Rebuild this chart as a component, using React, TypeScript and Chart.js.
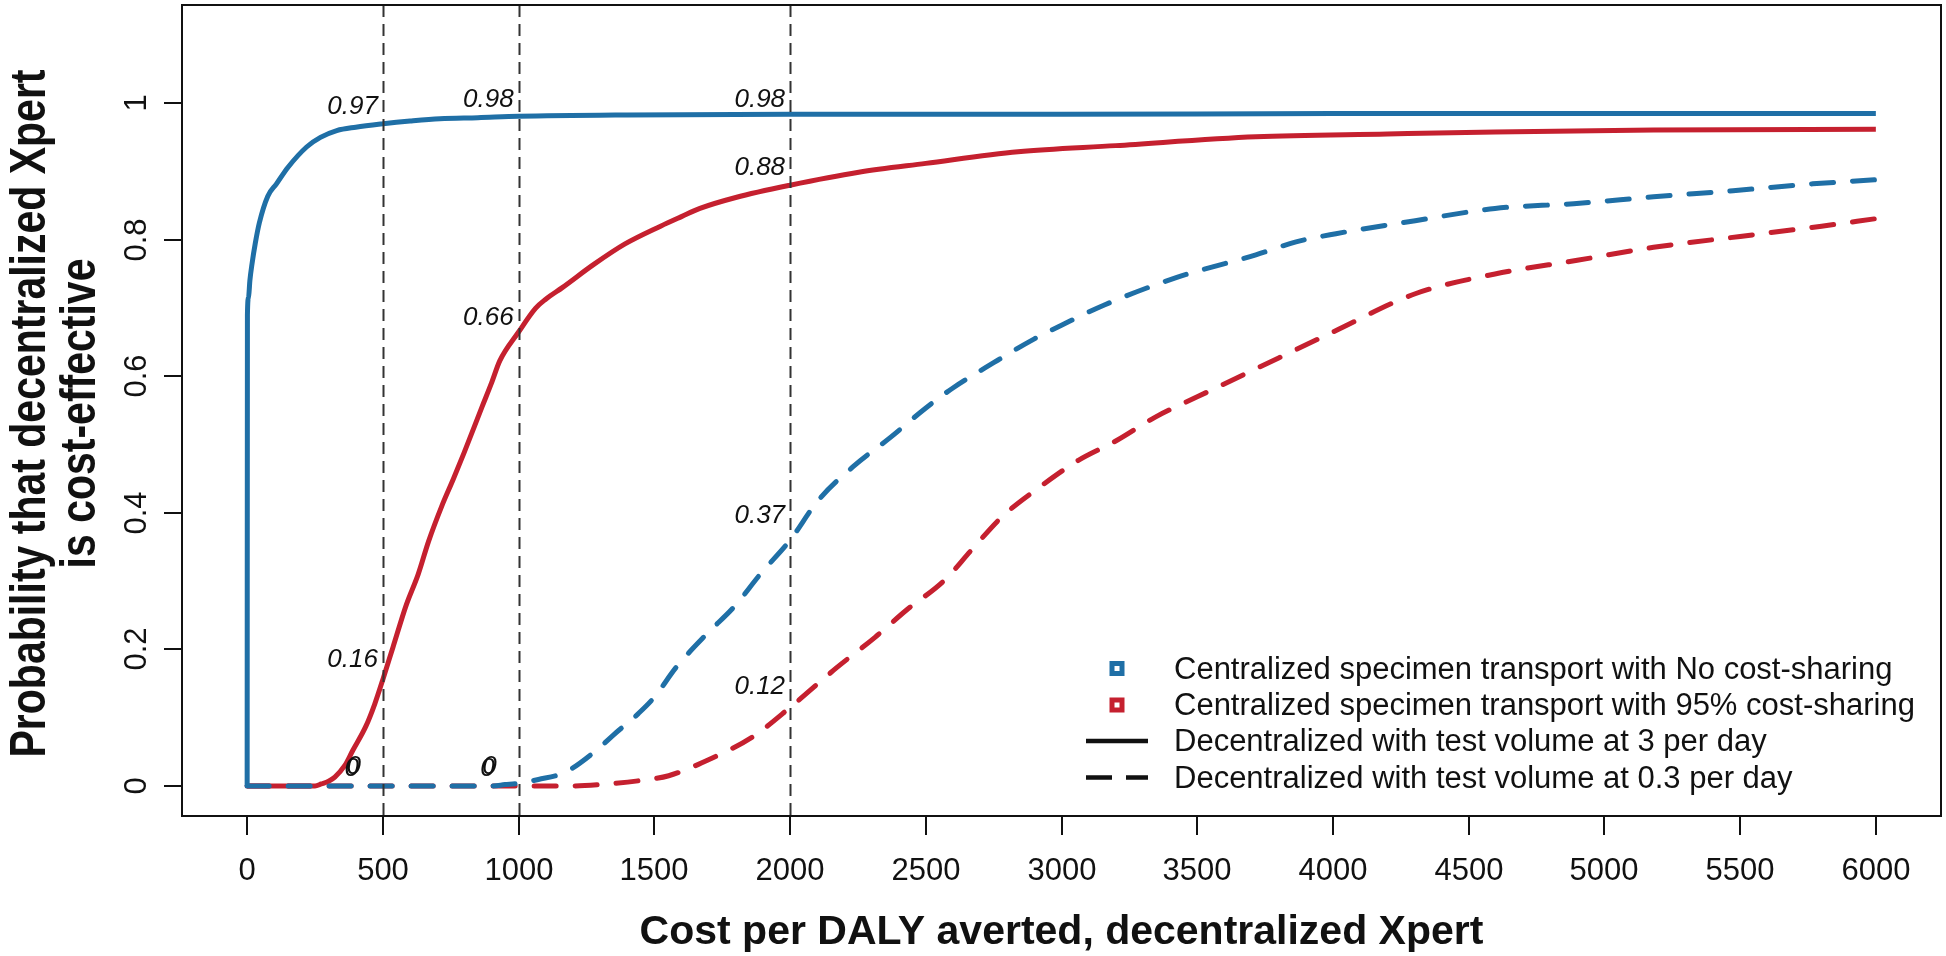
import React, { useEffect, useRef } from 'react';
import { Chart, registerables } from 'chart.js';

Chart.register(...registerables);

// ---- Data ----
const blueSolidX = [0, 1, 5, 10, 18, 30, 45, 76, 108, 150, 219, 270, 330, 400, 501, 600, 710, 850, 1000, 1400, 2000, 3000, 4000, 5000, 6000];
const blueSolidY = [0, 0.69, 0.715, 0.74, 0.765, 0.795, 0.825, 0.864, 0.882, 0.906, 0.936, 0.95, 0.96, 0.965, 0.97, 0.974, 0.9775, 0.979, 0.981, 0.983, 0.984, 0.984, 0.985, 0.985, 0.985];

const redSolidX = [0, 150, 250, 273, 300, 323, 360, 389, 438, 470, 500, 537, 586, 630, 668, 717, 760, 799, 866, 900, 931, 1000, 1063, 1100, 1161, 1277, 1392, 1523, 1600, 1668, 1800, 2000, 2253, 2500, 2840, 3200, 3716, 4200, 4597, 5181, 6000];
const redSolidY = [0, 0, 0, 0.003, 0.007, 0.013, 0.03, 0.052, 0.088, 0.12, 0.156, 0.203, 0.265, 0.31, 0.358, 0.41, 0.45, 0.488, 0.556, 0.59, 0.623, 0.665, 0.7, 0.713, 0.73, 0.764, 0.794, 0.82, 0.834, 0.846, 0.862, 0.88, 0.899, 0.912, 0.929, 0.938, 0.951, 0.955, 0.958, 0.961, 0.962];

const blueDashX = [0, 900, 950, 1000, 1073, 1171, 1286, 1350, 1441, 1500, 1581, 1694, 1793, 1892, 2000, 2103, 2230, 2371, 2498, 2600, 2750, 2900, 3000, 3160, 3425, 3716, 3864, 4011, 4303, 4597, 4887, 5181, 5474, 5767, 6000];
const blueDashY = [0, 0, 0.002, 0.004, 0.0095, 0.02, 0.052, 0.075, 0.106, 0.13, 0.174, 0.223, 0.262, 0.311, 0.36, 0.418, 0.467, 0.511, 0.553, 0.583, 0.62, 0.655, 0.675, 0.705, 0.745, 0.778, 0.797, 0.809, 0.828, 0.846, 0.853, 0.863, 0.872, 0.882, 0.888];

const redDashX = [0, 1000, 1204, 1328, 1450, 1553, 1708, 1862, 2000, 2174, 2314, 2427, 2568, 2667, 2780, 2920, 3062, 3203, 3344, 3500, 3800, 4000, 4303, 4597, 4900, 5181, 5500, 5800, 6000];
const redDashY = [0, 0, 0, 0.003, 0.008, 0.015, 0.04, 0.072, 0.115, 0.174, 0.218, 0.257, 0.301, 0.345, 0.394, 0.438, 0.477, 0.506, 0.54, 0.57, 0.627, 0.665, 0.721, 0.75, 0.77, 0.789, 0.805, 0.82, 0.831];

const xTicks = [0, 500, 1000, 1500, 2000, 2500, 3000, 3500, 4000, 4500, 5000, 5500, 6000];
const yTicks = [0, 0.2, 0.4, 0.6, 0.8, 1];
const yTickLabels = ['0', '0.2', '0.4', '0.6', '0.8', '1'];
const thresholds = [500, 1000, 2000];

const annoX = [500, 1000, 2000, 2000, 1000, 500, 2000, 2000, 500, 500, 1000, 1000];
const annoY = [0.97, 0.98, 0.98, 0.88, 0.66, 0.16, 0.37, 0.12, 0, 0, 0, 0];
const annoText = ['0.97', '0.98', '0.98', '0.88', '0.66', '0.16', '0.37', '0.12', '0', '0', '0', '0'];

const legendLabels = [
  'Centralized specimen transport with No cost-sharing',
  'Centralized specimen transport with 95% cost-sharing',
  'Decentralized with test volume at 3 per day',
  'Decentralized with test volume at 0.3 per day',
];

const xTitle = 'Cost per DALY averted, decentralized Xpert';
const yTitle1 = 'Probability that decentralized Xpert';
const yTitle2 = 'is cost-effective';

const BLUE = '#1f6fa6';
const RED = '#c5202f';
const FONT = '"Liberation Sans", Arial, Helvetica, sans-serif';

const pts = (xs: number[], ys: number[]) => xs.map((x, i) => ({ x, y: ys[i] }));

export default function App() {
  const ref = useRef<HTMLCanvasElement>(null);

  useEffect(() => {
    const canvas = ref.current;
    if (!canvas) return;

    const decor = {
      id: 'rdecor',
      afterDatasetsDraw(chart: any) {
        const ctx = chart.ctx;
        const xs = chart.scales.x;
        const ys = chart.scales.y;
        const a = chart.chartArea;
        ctx.save();
        // threshold dashed lines
        ctx.strokeStyle = '#333';
        ctx.lineWidth = 2;
        ctx.setLineDash([12, 7]);
        thresholds.forEach((t) => {
          const px = Math.round(xs.getPixelForValue(t)) + 0.5;
          ctx.beginPath();
          ctx.moveTo(px, a.top);
          ctx.lineTo(px, a.bottom);
          ctx.stroke();
        });
        ctx.setLineDash([]);
        // annotations
        ctx.fillStyle = '#111';
        ctx.font = `italic 26px ${FONT}`;
        ctx.textAlign = 'right';
        ctx.textBaseline = 'alphabetic';
        const seen: Record<string, number> = {};
        annoText.forEach((t, i) => {
          const px = xs.getPixelForValue(annoX[i]);
          const py = ys.getPixelForValue(annoY[i]);
          if (t === '0') {
            const key = String(annoX[i]);
            const n = seen[key] || 0;
            seen[key] = n + 1;
            ctx.fillText(t, px - 24 + n * 2, py - 10 - n * 2);
          } else {
            ctx.fillText(t, px - 5, py - 10);
          }
        });
        ctx.restore();
      },
      afterDraw(chart: any) {
        const ctx = chart.ctx;
        const xs = chart.scales.x;
        const ys = chart.scales.y;
        const a = chart.chartArea;
        ctx.save();
        // box
        ctx.strokeStyle = '#111';
        ctx.lineWidth = 2;
        ctx.strokeRect(a.left, a.top, a.right - a.left, a.bottom - a.top);
        // x ticks
        ctx.fillStyle = '#111';
        ctx.font = `31px ${FONT}`;
        ctx.textAlign = 'center';
        ctx.textBaseline = 'alphabetic';
        xTicks.forEach((t) => {
          const px = Math.round(xs.getPixelForValue(t));
          ctx.beginPath();
          ctx.moveTo(px, a.bottom);
          ctx.lineTo(px, a.bottom + 19);
          ctx.stroke();
          ctx.fillText(String(t), px, 880);
        });
        // y ticks
        yTicks.forEach((t, i) => {
          const py = Math.round(ys.getPixelForValue(t));
          ctx.beginPath();
          ctx.moveTo(a.left, py);
          ctx.lineTo(a.left - 18, py);
          ctx.stroke();
          ctx.save();
          ctx.translate(146, py);
          ctx.rotate(-Math.PI / 2);
          ctx.fillText(yTickLabels[i], 0, 0);
          ctx.restore();
        });
        // titles
        ctx.font = `bold 41px ${FONT}`;
        ctx.fillText(xTitle, (a.left + a.right) / 2, 944);
        const cy = (a.top + a.bottom) / 2 + 3;
        ctx.save();
        ctx.translate(45, cy);
        ctx.scale(1.2, 1);
        ctx.rotate(-Math.PI / 2);
        ctx.fillText(yTitle1, 0, 0);
        ctx.restore();
        ctx.save();
        ctx.translate(95, cy);
        ctx.scale(1.2, 1);
        ctx.rotate(-Math.PI / 2);
        ctx.fillText(yTitle2, 0, 0);
        ctx.restore();
        // legend
        const rows = [668.5, 705, 741, 777.5];
        ctx.font = `31px ${FONT}`;
        ctx.textAlign = 'left';
        const colors = [BLUE, RED];
        for (let i = 0; i < 2; i++) {
          ctx.strokeStyle = colors[i];
          ctx.lineWidth = 5;
          ctx.strokeRect(1117 - 5, rows[i] - 5, 10, 10);
        }
        ctx.strokeStyle = '#111';
        ctx.lineWidth = 4.5;
        ctx.beginPath();
        ctx.moveTo(1086, rows[2]);
        ctx.lineTo(1148, rows[2]);
        ctx.stroke();
        ctx.setLineDash([26, 14]);
        ctx.beginPath();
        ctx.moveTo(1086, rows[3]);
        ctx.lineTo(1148, rows[3]);
        ctx.stroke();
        ctx.setLineDash([]);
        legendLabels.forEach((l, i) => {
          ctx.fillText(l, 1174, rows[i] + 10);
        });
        ctx.restore();
      },
    };

    const common = { pointRadius: 0, borderWidth: 5, fill: false, cubicInterpolationMode: 'monotone' as const };
    const chart = new Chart(canvas, {
      type: 'line',
      data: {
        datasets: [
          { ...common, label: 'blue solid', data: pts(blueSolidX, blueSolidY), borderColor: BLUE },
          { ...common, label: 'blue dashed', data: pts(blueDashX, blueDashY), borderColor: BLUE, borderDash: [22, 19], borderCapStyle: 'round' },
          { ...common, label: 'red dashed', data: pts(redDashX, redDashY), borderColor: RED, borderDash: [22, 19], borderCapStyle: 'round' },
          { ...common, label: 'red solid', data: pts(redSolidX, redSolidY), borderColor: RED },
        ],
      },
      options: {
        animation: false,
        responsive: false,
        devicePixelRatio: 1,
        layout: { padding: { left: 182, right: 5, top: 5, bottom: 140 } },
        plugins: { legend: { display: false }, tooltip: { enabled: false } },
        scales: {
          x: { type: 'linear', min: -240, max: 6240, display: false },
          y: { type: 'linear', min: -0.044, max: 1.144, display: false },
        },
      },
      plugins: [decor],
    } as any);
    return () => chart.destroy();
  }, []);

  return (
    <div style={{ position: 'fixed', left: 0, top: 0, width: 1946, height: 956, background: '#fff' }}>
      <canvas ref={ref} width={1946} height={956} style={{ display: 'block', width: 1946, height: 956 }} />
    </div>
  );
}
